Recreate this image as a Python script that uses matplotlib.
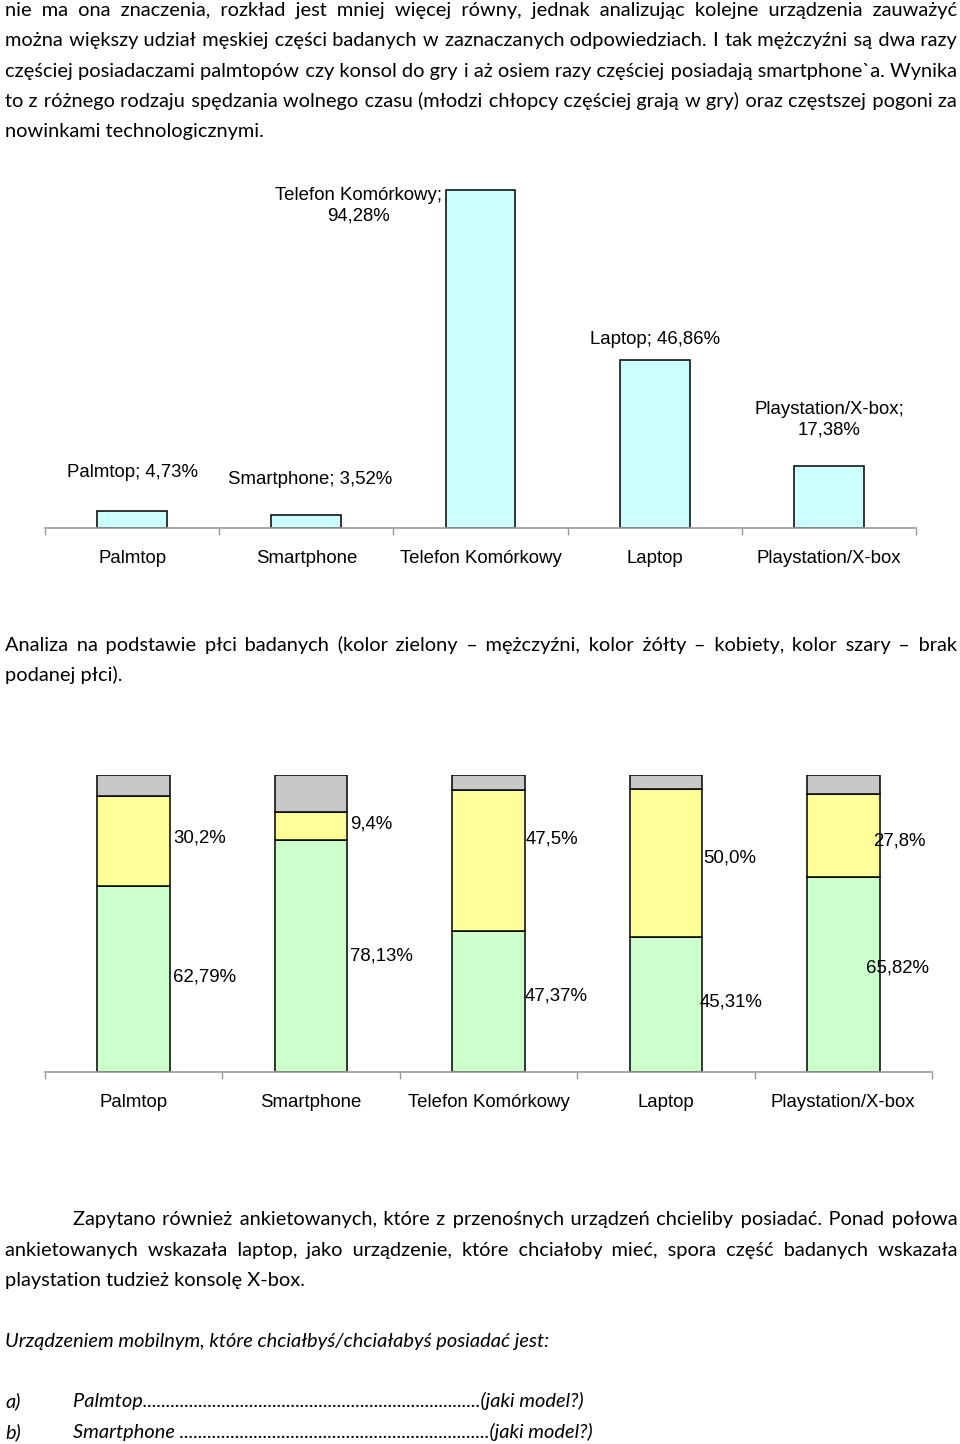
import matplotlib.pyplot as plt
import numpy as np

W, H = 960, 1444

categories = ["Palmtop", "Smartphone", "Telefon Komórkowy", "Laptop", "Playstation/X-box"]
owned = [4.73, 3.52, 94.28, 46.86, 17.38]

men = [62.79, 78.13, 47.37, 45.31, 65.82]
women = [30.2, 9.4, 47.5, 50.0, 27.8]
unknown = [7.0, 12.5, 5.1, 4.7, 6.4]

para1 = [
    "nie ma ona znaczenia, rozkład jest mniej więcej równy, jednak analizując kolejne urządzenia zauważyć",
    "można większy udział męskiej części badanych w zaznaczanych odpowiedziach. I tak mężczyźni są dwa razy",
    "częściej posiadaczami palmtopów czy konsol do gry i aż osiem razy częściej posiadają smartphone`a. Wynika",
    "to z różnego rodzaju spędzania wolnego czasu (młodzi chłopcy częściej grają w gry) oraz częstszej pogoni za",
]
para1_last = "nowinkami technologicznymi."
para2 = "Analiza na podstawie płci badanych (kolor zielony – mężczyźni, kolor żółty – kobiety, kolor szary – brak"
para2_last = "podanej płci)."
para3 = [
    "Zapytano również ankietowanych, które z przenośnych urządzeń chcieliby posiadać. Ponad połowa",
    "ankietowanych wskazała laptop, jako urządzenie, które chciałoby mieć, spora część badanych wskazała",
]
para3_last = "playstation tudzież konsolę X-box."
question = "Urządzeniem mobilnym, które chciałbyś/chciałabyś posiadać jest:"
answers = [("a)", "Palmtop" + "." * 73 + "(jaki model?)"),
           ("b)", "Smartphone " + "." * 67 + "(jaki model?)")]

body_font = dict(family=["Lato", "DejaVu Sans"], fontsize=14.4, color="black")
chart_font = ["Liberation Sans", "DejaVu Sans"]

fig = plt.figure(figsize=(W / 100, H / 100), dpi=100)
renderer = fig.canvas.get_renderer()


def put(text, x, y, **kw):
    # y is the visual middle of the line in pixels from the top
    opts = dict(body_font)
    opts.update(kw)
    return fig.text(x / W, 1 - (y + 6) / H, text, va="baseline", ha="left", **opts)


def width(t):
    return t.get_window_extent(renderer).width


HAIR = "\u200a"
_probe = put("x", 0, 0)
_w1 = width(_probe)
_probe.set_text("x" + HAIR * 40)
hair_w = (width(_probe) - _w1) / 40
_probe.remove()


def justify(text, y, x0=5, x1=957, **kw):
    # one string per line, extra hair spaces spread over the gaps
    words = text.split()
    t = put(" ".join(words), x0, y, **kw)
    n = len(words) - 1
    per_gap = ((x1 - x0) - width(t)) / n / hair_w
    out, used = words[0], 0
    for i, w in enumerate(words[1:], 1):
        k = int(round(per_gap * i)) - used
        used += k
        out += " " + HAIR * max(k, 0) + w
    t.set_text(out)


# text blocks
for i, line in enumerate(para1):
    justify(line, 10 + i * 30.3)
put(para1_last, 5, 131)
justify(para2, 645)
put(para2_last, 5, 675)
justify(para3[0], 1219, x0=73)
justify(para3[1], 1250)
put(para3_last, 5, 1280)
put(question, 5, 1341, style="italic")
for j, (lab, txt) in enumerate(answers):
    put(lab, 5, 1401 + j * 31, style="italic")
    put(txt, 73, 1401 + j * 31, style="italic")


def style_axis(ax, pad):
    x = np.arange(len(categories))
    ax.set_xlim(-0.5, len(categories) - 0.5)
    ax.set_ylim(0, 100)
    for s in ["top", "right", "left"]:
        ax.spines[s].set_visible(False)
    ax.spines["bottom"].set_color("#9a9a9a")
    ax.spines["bottom"].set_linewidth(1.2)
    ax.set_yticks([])
    ax.set_xticks(np.arange(len(categories) + 1) - 0.5)
    ax.set_xticklabels([])
    ax.tick_params(axis="x", which="major", length=5, color="#9a9a9a", width=1)
    ax.set_xticks(x, minor=True)
    ax.set_xticklabels(categories, minor=True, family=chart_font, fontsize=13.4)
    ax.tick_params(axis="x", which="minor", length=0, pad=pad)
    ax.patch.set_alpha(0)


# chart 1: ownership
ax1 = fig.add_axes([45 / W, (H - 528) / H, 871 / W, 358.5 / H])
x = np.arange(len(categories))
ax1.bar(x, owned, width=0.4, color="#CCFFFF", edgecolor="black", linewidth=1.1)
style_axis(ax1, 16)
offsets1 = [(0, 39), (4, 36), (-122, -16), (0, 21), (0, 46)]
for i, (v, off) in enumerate(zip(owned, offsets1)):
    val = f"{v:.2f}".replace(".", ",") + "%"
    lab = f"{categories[i]}; {val}"
    if i in (2, 4):
        lab = f"{categories[i]};\n{val}"
    ax1.annotate(lab, (i, v), xytext=(off[0] * 0.72, off[1] * 0.72),
                 textcoords="offset points", ha="center", va="center",
                 family=chart_font, fontsize=13.4, linespacing=1.3)

# chart 2: by gender
ax2 = fig.add_axes([45 / W, (H - 1072) / H, 887 / W, 297 / H])
ax2.bar(x, men, width=0.41, color="#CCFFCC", edgecolor="black", linewidth=1.1)
ax2.bar(x, women, bottom=men, width=0.41, color="#FFFF99", edgecolor="black", linewidth=1.1)
ax2.bar(x, unknown, bottom=np.add(men, women), width=0.41, color="#C8C8C8",
        edgecolor="black", linewidth=1.1)
style_axis(ax2, 16)
off_men = [(3, 2), (3, 0), (0, 6), (-3, 3), (-14, 6)]
off_women = [(3, 3), (3, 2), (1, 22), (1, 5), (-7, -6)]
for i in range(len(categories)):
    right = i + 0.205
    dxm, dym = off_men[i]
    dxw, dyw = off_women[i]
    ax2.annotate(f"{men[i]:.2f}".replace(".", ",") + "%", (right, men[i] / 2),
                 xytext=(dxm * 0.72, dym * 0.72), textcoords="offset points",
                 ha="left", va="center", family=chart_font, fontsize=13.4)
    ax2.annotate(f"{women[i]:.1f}".replace(".", ",") + "%", (right, men[i] + women[i] / 2),
                 xytext=(dxw * 0.72, dyw * 0.72), textcoords="offset points",
                 ha="left", va="center", family=chart_font, fontsize=13.4)

fig.savefig("out.png", dpi=100)
